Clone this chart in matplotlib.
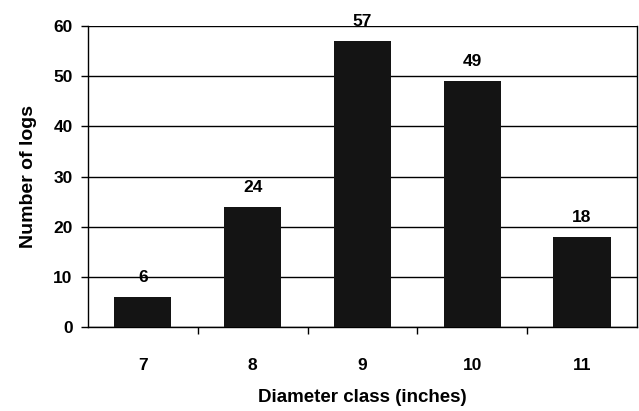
import matplotlib
matplotlib.use("Agg")
import matplotlib.pyplot as plt
import numpy as np

# diameter classes and log counts
diameter_classes = ["7", "8", "9", "10", "11"]
log_counts = [6, 24, 57, 49, 18]
y_ticks = [0, 10, 20, 30, 40, 50, 60]

plt.rcParams["font.family"] = ["Liberation Sans", "DejaVu Sans"]
plt.rcParams["font.weight"] = "bold"

fig = plt.figure(figsize=(6.39, 4.11), dpi=100)
ax = fig.add_axes([0.1377, 0.2044, 0.859, 0.732])

x = np.arange(len(diameter_classes))
ax.bar(x, log_counts, width=0.52, color="#141414", zorder=3)

for xi, count in zip(x, log_counts):
    ax.annotate(str(count), (xi, count), xytext=(0, 14), textcoords="offset points",
                ha="center", va="center", fontsize=12.5, fontweight="bold",
                annotation_clip=False)

ax.set_xlim(-0.5, len(diameter_classes) - 0.5)
ax.set_ylim(0, 60)
ax.set_yticks(y_ticks)
ax.yaxis.grid(True, color="black", linewidth=1.0, zorder=1)
ax.set_axisbelow(True)

ax.set_xticks(x)
ax.set_xticklabels(diameter_classes)
ax.set_xticks(x[:-1] + 0.5, minor=True)
ax.tick_params(axis="x", which="major", length=0, pad=22, labelsize=12.5)
ax.tick_params(axis="x", which="minor", length=5, width=1, direction="out")
ax.tick_params(axis="y", length=5, width=1, labelsize=12.5, pad=6)

for spine in ax.spines.values():
    spine.set_color("black")
    spine.set_linewidth(1.0)
ax.spines["top"].set_visible(False)

ax.set_xlabel("Diameter class (inches)", fontsize=13.5, fontweight="bold", labelpad=12)
ax.set_ylabel("Number of logs", fontsize=14, fontweight="bold", labelpad=12)

fig.savefig("out.png", dpi=100)
